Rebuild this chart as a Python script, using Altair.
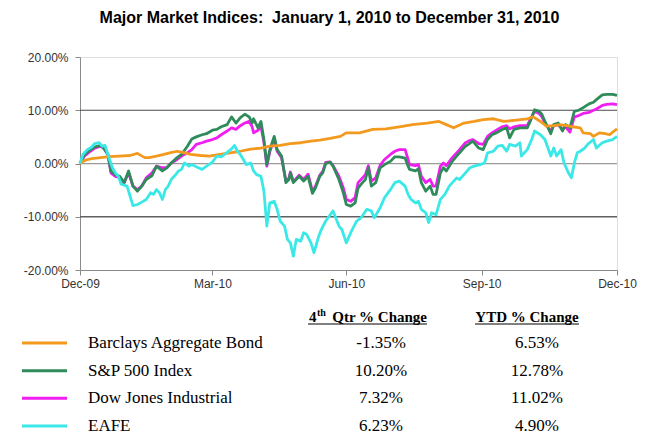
import json
import altair as alt
import pandas as pd

TITLE = "Major Market Indices:\u00a0 January 1, 2010 to December 31, 2010"
SERIES = ["Barclays Aggregate Bond", "S&P 500 Index", "Dow Jones Industrial", "EAFE"]
COLORS = ["#F39A1E", "#2F8B5A", "#F01EF0", "#3BE8E8"]
Q4_CHANGE = ["-1.35%", "10.20%", "7.32%", "6.23%"]
YTD_CHANGE = ["6.53%", "12.78%", "11.02%", "4.90%"]
HEADER_Q4_NUM = "4"
HEADER_Q4_SUP = "th"
HEADER_Q4_REST = "Qtr % Change"
HEADER_YTD = "YTD % Change"
TICK_DAYS = [0, 90, 181, 273, 365]          # days after Dec 31, 2009
TICK_LABELS = ["Dec-09", "Mar-10", "Jun-10", "Sep-10", "Dec-10"]
Y_TICKS = [-20, -10, 0, 10, 20]
GRID_LEVELS = [10, 0, -10]

# Barclays Aggregate Bond (cumulative % change)
bond_days = [0, 2, 5, 8, 14, 20, 27, 34, 39, 44, 47, 52, 57, 61, 66, 70, 75, 82, 88, 95,
             102, 109, 116, 123, 129, 136, 143, 150, 157, 163, 170, 177, 181, 190, 199, 208,
             217, 226, 236, 244, 249, 254, 261, 268, 274, 281, 288, 295, 304, 308, 313, 317,
             322, 326, 331, 335, 340, 342, 347, 349, 353, 357, 360, 363, 365]
bond_vals = [0, 0.4, 0.75, 0.9, 1.1, 1.3, 1.4, 1.5, 1.9, 1.1, 1.1, 1.4, 1.7, 2.0, 2.3, 2.1,
             1.7, 1.5, 1.4, 1.7, 2.0, 2.3, 2.7, 2.9, 3.25, 3.4, 3.75, 3.9, 4.2, 4.4, 4.7, 5.1,
             5.75, 5.75, 6.4, 6.5, 6.9, 7.3, 7.6, 7.9, 7.3, 6.7, 7.6, 7.9, 8.25, 8.4, 7.9, 8.1,
             8.4, 8.75, 7.9, 7.0, 7.1, 7.3, 7.1, 6.9, 6.7, 5.75, 5.6, 5.1, 5.75, 5.6, 5.4, 6.1, 6.5]

# S&P 500 Index
spx_days = [0, 3, 7, 10, 14, 16, 19, 21, 24, 27, 30, 33, 36, 39, 42, 45, 49, 52, 56, 59, 62,
            66, 69, 73, 76, 79, 83, 86, 90, 93, 96, 100, 103, 106, 109, 112, 115, 117, 118,
            121, 123, 125, 127, 129, 132, 134, 137, 140, 142, 143, 145, 149, 152, 155, 158,
            160, 163, 165, 167, 170, 172, 176, 179, 181, 184, 187, 189, 192, 194, 196, 198,
            201, 204, 207, 211, 214, 217, 221, 223, 224, 228, 230, 232, 235, 238, 240, 242,
            245, 247, 249, 253, 256, 258, 262, 264, 267, 271, 274, 277, 280, 283, 287, 290,
            292, 295, 299, 304, 306, 309, 312, 314, 316, 320, 322, 325, 328, 330, 333, 336,
            339, 342, 346, 349, 351, 355, 358, 362, 365]
spx_vals = [0, 1.7, 2.6, 3.1, 3.4, 2.9, 1.7, -1.4, -2.1, -2.4, -3.6, -1.4, -4.25, -5.2, -4.25,
            -3.0, -2.25, -0.5, -1.4, -0.8, 0.1, 1.1, 1.7, 3.25, 4.6, 5.0, 5.4, 5.6, 6.25, 6.4,
            6.9, 7.3, 8.75, 7.6, 8.6, 9.25, 8.75, 7.6, 8.4, 6.7, 7.9, 4.5, -0.2, 2.6, 5.1, 2.6,
            1.4, -3.6, -3.0, -1.75, -3.6, -2.4, -3.3, -2.4, -5.6, -4.6, -2.4, -1.75, 0, 0.25,
            -0.5, -3.0, -5.5, -7.7, -8.0, -7.4, -4.6, -3.6, -3.0, -0.8, -4.25, -3.6, -0.8, -0.2,
            0.4, 1.25, 1.25, 1.0, -0.5, -1.1, -1.4, -1.0, -3.6, -5.2, -4.25, -5.8, -5.8, -1.75,
            -0.8, -1.4, 0.4, 1.4, 2.0, 3.25, 3.6, 4.2, 2.9, 2.6, 4.5, 5.4, 5.75, 6.4, 6.7, 4.8,
            6.4, 6.7, 6.7, 7.9, 10.1, 9.8, 9.2, 7.9, 5.6, 7.3, 7.6, 6.1, 7.3, 6.7, 9.8, 10.0,
            10.5, 11.2, 11.5, 12.0, 12.9, 13.0, 13.0, 12.8]

# Dow Jones Industrial
dji_days = spx_days[:]
dji_vals = [0, 1.4, 2.3, 2.9, 3.25, 2.9, 1.7, -1.75, -2.4, -2.6, -3.6, -1.75, -4.25, -4.9,
            -4.25, -2.7, -1.75, -0.5, -0.8, -0.8, 0.1, 0.75, 1.4, 2.0, 2.6, 3.6, 3.9, 4.2, 4.5,
            4.8, 5.4, 6.1, 6.7, 6.4, 7.1, 7.6, 7.9, 6.9, 5.75, 6.25, 7.0, 4.0, -0.5, 2.2, 4.6,
            2.3, 1.1, -3.3, -2.8, -1.6, -3.4, -2.2, -3.0, -2.0, -5.2, -4.3, -2.2, -1.5, 0.2,
            0.3, -0.4, -2.4, -4.6, -6.75, -7.1, -6.4, -3.6, -2.7, -2.1, -0.4, -3.3, -2.7, -0.3,
            0.75, 1.7, 2.3, 2.6, 2.6, 0.75, -0.2, -0.4, -0.2, -2.4, -3.6, -3.0, -4.25, -4.25,
            -0.5, 0.1, -0.4, 1.1, 2.0, 2.6, 3.9, 4.2, 4.5, 3.75, 3.6, 5.1, 5.75, 6.25, 6.9, 7.1,
            6.5, 6.9, 7.1, 7.1, 8.25, 9.8, 9.4, 8.75, 7.6, 6.1, 7.1, 7.3, 6.4, 6.9, 5.9, 8.75,
            9.0, 9.4, 9.6, 10.0, 10.25, 10.9, 11.1, 11.2, 11.05]

# EAFE
efa_days = [0, 2, 5, 8, 10, 13, 15, 17, 19, 22, 24, 26, 28, 32, 34, 36, 39, 42, 45, 48, 50,
            52, 54, 56, 58, 60, 62, 65, 67, 69, 71, 74, 76, 79, 83, 86, 90, 93, 96, 100, 103,
            105, 107, 109, 111, 113, 116, 118, 120, 123, 125, 127, 129, 132, 134, 136, 139,
            141, 143, 145, 147, 150, 152, 154, 157, 159, 162, 164, 167, 172, 176, 178, 181,
            184, 188, 191, 195, 198, 200, 204, 207, 211, 214, 217, 221, 223, 225, 228, 230,
            232, 235, 237, 239, 242, 245, 248, 251, 256, 258, 262, 265, 268, 272, 275, 277,
            281, 284, 287, 290, 292, 296, 299, 300, 304, 307, 309, 313, 316, 320, 322, 324,
            327, 329, 332, 334, 336, 338, 340, 343, 345, 349, 351, 355, 358, 362, 365]
efa_vals = [0, 1.7, 2.6, 3.1, 3.75, 3.9, 3.25, 3.4, 1.7, -0.8, -1.75, -2.4, -3.9, -4.25, -6.1,
            -7.9, -7.7, -7.25, -6.75, -5.5, -5.8, -4.9, -5.5, -6.75, -4.9, -4.25, -3.0, -2.1,
            -1.4, -1.1, 0.1, -0.5, -0.2, -0.6, -1.1, -0.5, 0.25, 1.4, 1.25, 2.1, 2.75, 3.4,
            2.3, 1.7, 0.75, -0.2, 0.1, -1.4, -2.1, -2.4, -5.2, -11.75, -7.4, -7.1, -8.6, -10.8,
            -11.75, -14.25, -14.9, -17.4, -14.25, -14.6, -13.0, -13.3, -14.9, -16.75, -13.9,
            -12.4, -10.8, -8.9, -11.75, -12.4, -14.9, -13.0, -10.8, -10.2, -8.6, -8.9, -10.2,
            -8.3, -6.4, -4.9, -3.6, -3.3, -4.25, -5.8, -6.75, -7.4, -7.1, -8.6, -9.25, -11.1,
            -9.25, -9.6, -6.75, -5.8, -4.25, -2.7, -3.0, -1.75, -0.8, -0.5, -0.2, 0.1, 2.0,
            2.3, 3.25, 3.4, 2.3, 3.6, 3.25, 3.9, 1.4, 2.6, 4.5, 6.1, 5.4, 4.5, 1.4, 2.9, 1.4,
            2.6, 0.1, -1.75, -2.7, 0.1, 2.0, 2.3, 2.9, 3.6, 4.5, 2.9, 3.9, 4.2, 4.5, 5.1]

SERIES_DATA = {
    "Barclays Aggregate Bond": (bond_days, bond_vals),
    "S&P 500 Index": (spx_days, spx_vals),
    "Dow Jones Industrial": (dji_days, dji_vals),
    "EAFE": (efa_days, efa_vals),
}
DRAW_ORDER = ["Dow Jones Industrial", "S&P 500 Index", "Barclays Aggregate Bond", "EAFE"]

W, H = 537, 213
SANS = "Liberation Sans"
SERIF = "Liberation Serif"

x_scale = alt.Scale(domain=[0, 365], nice=False, zero=False)
y_scale = alt.Scale(domain=[-20, 20], nice=False, zero=False)

x_label_expr = "{}[indexof({}, datum.value)]".format(json.dumps(TICK_LABELS).replace('"', "'"),
                                                     json.dumps(TICK_DAYS))
y_label_expr = "(datum.value < 0 ? '-' : '') + format(abs(datum.value), '.2f') + '%'"

x_axis = alt.Axis(values=TICK_DAYS, labelExpr=x_label_expr, title=None, grid=False,
                  tickSize=5, tickColor="#8a8a8a", domainColor="#8a8a8a", labelFont=SANS,
                  labelFontSize=12, labelColor="#333333", labelPadding=3, labelFlush=False,
                  labelOverlap=False)
y_axis = alt.Axis(values=Y_TICKS, labelExpr=y_label_expr, title=None, grid=False,
                  tickSize=5, tickColor="#8a8a8a", domainColor="#8a8a8a", labelFont=SANS,
                  labelFontSize=12, labelColor="#333333", labelPadding=7)

GRID_KINDS = ["dark", "zero", "dark2"]
grid_df = pd.DataFrame({"level": GRID_LEVELS, "kind": GRID_KINDS})
grid = alt.Chart(grid_df).mark_rule().encode(
    x=alt.datum(0, type="quantitative", scale=x_scale, axis=x_axis),
    x2=alt.datum(365),
    y=alt.Y("level:Q", scale=y_scale, axis=y_axis),
    color=alt.Color("kind:N", scale=alt.Scale(domain=GRID_KINDS,
                                              range=["#4a4a4a", "#9a9a9a", "#606060"]),
                    legend=None),
    strokeWidth=alt.StrokeWidth("kind:N", scale=alt.Scale(domain=GRID_KINDS,
                                                          range=[1.2, 1.3, 2.0]),
                                legend=None),
)

line_layers = []
for name in DRAW_ORDER:
    days, vals = SERIES_DATA[name]
    df = pd.DataFrame({"day": days, "value": vals})
    color = COLORS[SERIES.index(name)]
    line_layers.append(
        alt.Chart(df).mark_line(strokeWidth=2.8, strokeJoin="round", color=color).encode(
            x=alt.X("day:Q", scale=x_scale, axis=x_axis),
            y=alt.Y("value:Q", scale=y_scale, axis=y_axis),
        )
    )

main = alt.layer(grid, *line_layers)

table_df = pd.DataFrame({"name": SERIES, "q4": Q4_CHANGE, "ytd": YTD_CHANGE})
row_y = alt.Y("name:N", sort=SERIES,
              scale=alt.Scale(type="point", domain=SERIES, range=[291, 374], padding=0),
              axis=None)
base_t = alt.Chart(table_df)
samples = base_t.mark_rule(strokeWidth=3, yOffset=-5).encode(
    x=alt.value(-58), x2=alt.value(-13), y=row_y,
    color=alt.Color("name:N", scale=alt.Scale(domain=SERIES, range=COLORS), legend=None),
)
names_t = base_t.mark_text(align="left", baseline="alphabetic", font=SERIF, fontSize=17,
                           color="black").encode(x=alt.value(8), y=row_y, text="name:N")
q4_t = base_t.mark_text(align="center", baseline="alphabetic", font=SERIF, fontSize=17,
                        color="black").encode(x=alt.value(301), y=row_y, text="q4:N")
ytd_t = base_t.mark_text(align="center", baseline="alphabetic", font=SERIF, fontSize=17,
                         color="black").encode(x=alt.value(457), y=row_y, text="ytd:N")

one = pd.DataFrame({"k": [0]})
hdr_y = 264.5
h1 = alt.Chart(one).mark_text(text=HEADER_Q4_NUM, align="left", baseline="alphabetic",
                              font=SERIF, fontSize=15, fontWeight="bold", color="black").encode(
    x=alt.value(229), y=alt.value(hdr_y))
h2 = alt.Chart(one).mark_text(text=HEADER_Q4_SUP, align="left", baseline="alphabetic",
                              font=SERIF, fontSize=10, fontWeight="bold", color="black",
                              dy=-6).encode(x=alt.value(237), y=alt.value(hdr_y))
h3 = alt.Chart(one).mark_text(text=HEADER_Q4_REST, align="right", baseline="alphabetic",
                              font=SERIF, fontSize=15, fontWeight="bold", color="black").encode(
    x=alt.value(347), y=alt.value(hdr_y))
h4 = alt.Chart(one).mark_text(text=HEADER_YTD, align="center", baseline="alphabetic",
                              font=SERIF, fontSize=15, fontWeight="bold", color="black").encode(
    x=alt.value(447), y=alt.value(hdr_y))
u1 = alt.Chart(one).mark_rule(color="black", strokeWidth=1).encode(
    x=alt.value(228), x2=alt.value(347), y=alt.value(hdr_y + 2.5))
u2 = alt.Chart(one).mark_rule(color="black", strokeWidth=1).encode(
    x=alt.value(395), x2=alt.value(499), y=alt.value(hdr_y + 2.5))

table = alt.layer(samples, names_t, q4_t, ytd_t, h1, h2, h3, h4, u1, u2)

chart = alt.layer(main, table).resolve_scale(
    y="independent", color="independent", strokeWidth="independent"
).properties(
    width=W, height=H,
    title=alt.TitleParams(text=TITLE, font=SANS, fontSize=16, fontWeight="bold",
                          anchor="middle", dx=-19, frame="group", offset=12,
                          baseline="alphabetic", color="black"),
    autosize=alt.AutoSizeParams(type="none"),
    padding={"left": 80, "top": 57, "right": 33, "bottom": 178},
).configure_view(stroke=None).configure(background="white")

chart.save("out.html", embed_options={"renderer": "svg", "actions": False})
